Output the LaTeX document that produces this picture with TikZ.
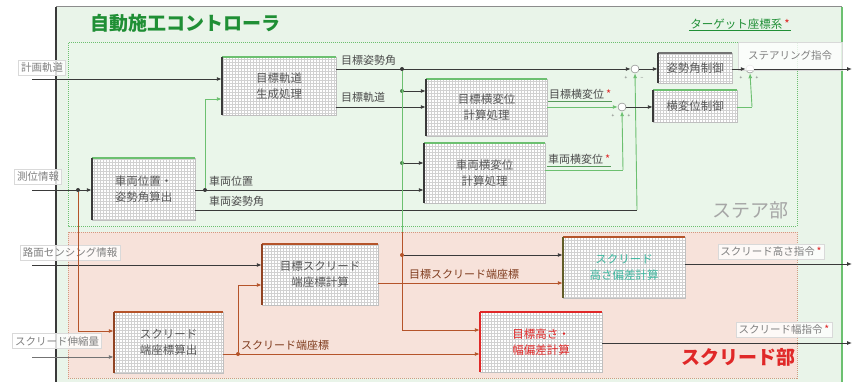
\documentclass[tikz,border=0pt]{standalone}
\usepackage{fontspec}
\setmainfont{Noto Sans CJK JP}
\usetikzlibrary{arrows.meta,calc}
\definecolor{ctrlbg}{HTML}{E9F4E9}
\definecolor{steerbg}{HTML}{EAF6EA}
\definecolor{screedbg}{HTML}{F7E2DA}
\definecolor{gline}{HTML}{6CC070}
\definecolor{oline}{HTML}{B5542A}
\definecolor{dline}{HTML}{3A3A3A}
\definecolor{ttl}{HTML}{1F8F35}
\definecolor{teal}{HTML}{3FB8A0}
\definecolor{redt}{HTML}{E02828}
\newcommand\bedges[3]{%
  \draw[line width=1.6pt,#3] (#1.north west) -- (#1.north east);
  \draw[line width=2.6pt,#2] (#1.north west) -- (#1.south west);}
\begin{document}
\begin{tikzpicture}[x=1pt,y=-1pt,
  blk/.style={draw=black!25, fill=white, inner sep=0pt, align=center,
    font=\fontsize{11.5}{16}\selectfont, text=black!65,
    path picture={\draw[black!18, step=3pt] (path picture bounding box.south west) grid (path picture bounding box.north east);}},
  sig/.style={draw=dline, line width=0.9pt, -{Latex[length=5pt,width=4pt]}},
  gsig/.style={draw=gline, line width=0.9pt},
  osig/.style={draw=oline, line width=0.9pt},
  tip/.style={-{Latex[length=5pt,width=4pt]}},
  dotn/.style={circle, fill=#1, inner sep=0pt, minimum size=4pt},
  sumn/.style={circle, draw=black!55, fill=white, minimum size=8pt, inner sep=0pt},
  sgn/.style={font=\fontsize{5}{5}\selectfont, text=black!60, inner sep=0pt},
  iolbl/.style={fill=white, fill opacity=.8, text opacity=1, draw=black!15, text=black!50,
    font=\fontsize{10.5}{12}\selectfont, inner sep=2.5pt},
  lbl/.style={text=black!70, font=\fontsize{11}{13}\selectfont, inner sep=1pt, anchor=south west},
]
\useasboundingbox (0,0) rectangle (856,382);
\fill[white] (0,0) rectangle (856,382);
% controller frame
\fill[ctrlbg] (56,7) rectangle (842,382);
\draw[black!45, line width=1pt] (56,7) -- (842,7);
\draw[gline, line width=1.6pt] (842,7) -- (842,382);
\draw[dline, line width=1.6pt] (56,7) -- (56,382);
\node[font=\fontsize{19}{20}\selectfont\bfseries, text=ttl] (title) at (185,23) {自動施工コントローラ};
\node[font=\fontsize{11.5}{13}\selectfont, text=ttl, inner sep=1pt] (tgt) at (740,24) {ターゲット座標系\,\textcolor{redt}{*}};
\draw[ttl, line width=0.8pt] (tgt.south west) -- (tgt.south east);
% sections
\filldraw[fill=steerbg, draw=gline, densely dotted, line width=1pt] (68,43) rectangle (797,226);
\filldraw[fill=screedbg, draw=oline!60, densely dotted, line width=1pt] (68,232) rectangle (797,378);
\node[font=\fontsize{19}{20}\selectfont, text=black!35] (steer) at (750,210) {ステア部};
\node[font=\fontsize{19}{20}\selectfont\bfseries, text=redt] (screed) at (738,357) {スクリード部};

% blocks
\node[blk, minimum width=114pt, minimum height=58pt] (A) at (279,86) {目標軌道\\生成処理};
\node[blk, minimum width=121pt, minimum height=57pt] (B) at (486.5,107.5) {目標横変位\\計算処理};
\node[blk, minimum width=121pt, minimum height=60pt] (C) at (484.5,173) {車両横変位\\計算処理};
\node[blk, minimum width=103pt, minimum height=62pt] (D) at (143.5,189) {車両位置・\\姿勢角算出};
\node[blk, minimum width=74pt, minimum height=30pt] (E) at (695,68) {姿勢角制御};
\node[blk, minimum width=84pt, minimum height=32pt] (F) at (695,106) {横変位制御};
\node[blk, minimum width=116pt, minimum height=61pt] (G) at (320,274.5) {目標スクリード\\端座標計算};
\node[blk, minimum width=109pt, minimum height=61pt] (H) at (168.5,342.5) {スクリード\\端座標算出};
\node[blk, minimum width=122pt, minimum height=61pt, text=teal] (I) at (624,267.5) {スクリード\\高さ偏差計算};
\node[blk, minimum width=122pt, minimum height=60pt, text=redt] (J) at (541,342) {目標高さ・\\幅偏差計算};
\bedges{A}{dline}{gline}
\bedges{B}{dline}{gline}
\bedges{C}{dline}{gline}
\bedges{D}{dline}{gline}
\bedges{E}{dline}{black!55}
\bedges{F}{dline}{gline}
\bedges{G}{oline!80!black}{oline}
\bedges{H}{oline!80!black}{oline}
\bedges{I}{olive!60!black}{oline}
\bedges{J}{redt}{redt}

% summing junctions
\node[sumn] (S1) at (635,69) {};
\node[sumn] (S2) at (622,107) {};
\node[sumn] (S3) at (750,69) {};
\node[sgn] at (626,78) {+}; \node[sgn] at (642,78) {−};
\node[sgn] at (613,116) {+}; \node[sgn] at (629,116) {+};
\node[sgn] at (741,78) {+}; \node[sgn] at (757,78) {+};

% io labels
\node[iolbl] (L1) at (42,68) {計画軌道};
\node[iolbl] (L2) at (38,177) {測位情報};
\node[iolbl] (L3) at (70,253) {路面センシング情報};
\node[iolbl] (L4) at (57,341) {スクリード伸縮量};
\node[iolbl, minimum width=104pt, minimum height=28pt] (L5) at (790,56) {ステアリング指令};
\node[iolbl] (L6) at (771,252) {スクリード高さ指令\,\textcolor{redt}{*}};
\node[iolbl] (L7) at (784,330) {スクリード幅指令\,\textcolor{redt}{*}};

% coordinates
\coordinate (i1) at (32,79);
\coordinate (i2) at (32,190);
\coordinate (i3) at (32,265);
\coordinate (i4) at (32,357);
\coordinate (o1) at (852,69);
\coordinate (o2) at (852,264);
\coordinate (o3) at (852,343);
\node[dotn=dline] (j1) at (78,190) {};
\node[dotn=dline] (vp) at (205,190) {};
\coordinate (fb) at (205,99);
\node[dotn=dline] (tp) at (402,69) {};
\node[dotn=gline!70!black] (tp1) at (402,91) {};
\node[dotn=gline!70!black] (tp2) at (402,163) {};
\node[dotn=oline] (tp3) at (402,255) {};
\coordinate (tpx) at (402,232);
\coordinate (tpe) at (402,330);
\coordinate (va) at (637,210);
\coordinate (c1) at (623,170);
\coordinate (f1) at (752,107);
\coordinate (j2) at (78,331);
\node[dotn=oline] (sc) at (238,354) {};
\coordinate (sc1) at (238,285);

% steer section wiring
\draw[sig] (i1) -- (i1 -| A.west);
\draw[sig] (i2) -- (i2 -| D.west);
\draw[gsig] (vp) -- (fb);
\draw[gsig, tip] (fb) -- (fb -| A.west);
\draw[sig] (D.east |- vp) -- (vp -| C.west);
\node[lbl] at (208,188) {車両位置};
\draw[dline, line width=0.9pt] (D.east |- va) -- (va);
\draw[gsig, tip] (va) -- (S1.south);
\node[lbl] at (208,208) {車両姿勢角};
\draw[sig] (A.east |- tp) -- (S1.west);
\node[lbl] at (340,67) {目標姿勢角};
\draw[sig] (A.east |- 0,107) -- (B.west |- 0,107);
\node[lbl] at (340,104) {目標軌道};
\draw[gsig] (tp) -- (tpx);
\draw[osig] (tpx) -- (tpe);
\draw[osig, tip] (tpe) -- (tpe -| J.west);
\draw[sig] (tp1) -- (tp1 -| B.west);
\draw[sig] (tp2) -- (tp2 -| C.west);
\draw[sig] (tp3) -- (tp3 -| I.west);
\draw[gsig, tip] (B.east |- S2) -- (S2.west);
\node[lbl, inner sep=1pt] (l9) at (548,101) {目標横変位\,\textcolor{redt}{*}};
\draw[gline!80!black, line width=0.7pt] (l9.south west) -- (l9.south east);
\draw[gsig] (C.east |- c1) -- (c1);
\draw[gsig, tip] (c1) -- (S2.south);
\node[lbl] (l10) at (547,166) {車両横変位\,\textcolor{redt}{*}};
\draw[gline!80!black, line width=0.7pt] (l10.south west) -- (l10.south east);
\draw[sig] (S1.east) -- (S1.east -| E.west);
\draw[sig] (S2.east) -- (S2.east -| F.west);
\draw[sig] (E.east |- S3) -- (S3.west);
\draw[gsig] (F.east |- f1) -- (f1);
\draw[gsig, tip] (f1) -- (S3.south);
\draw[sig] (S3.east) -- (o1);

% screed wiring
\draw[sig] (i3) -- (i3 -| G.west);
\draw[osig] (j1) -- (j2);
\draw[osig, tip] (j2) -- (j2 -| H.west);
\draw[draw=black!55, line width=0.9pt, tip] (i4) -- (i4 -| H.west);
\draw[osig, tip] (H.east |- sc) -- (sc -| J.west);
\node[lbl, text=oline!70!black] at (240,352) {スクリード端座標};
\draw[osig] (sc) -- (sc1);
\draw[osig, tip] (sc1) -- (sc1 -| G.west);
\draw[osig, tip] (G.east |- 0,283) -- (I.west |- 0,283);
\node[lbl, text=oline!70!black] at (408,281) {目標スクリード端座標};
\draw[sig] (I.east |- o2) -- (o2);
\draw[sig] (J.east |- o3) -- (o3);
\end{tikzpicture}
\end{document}
